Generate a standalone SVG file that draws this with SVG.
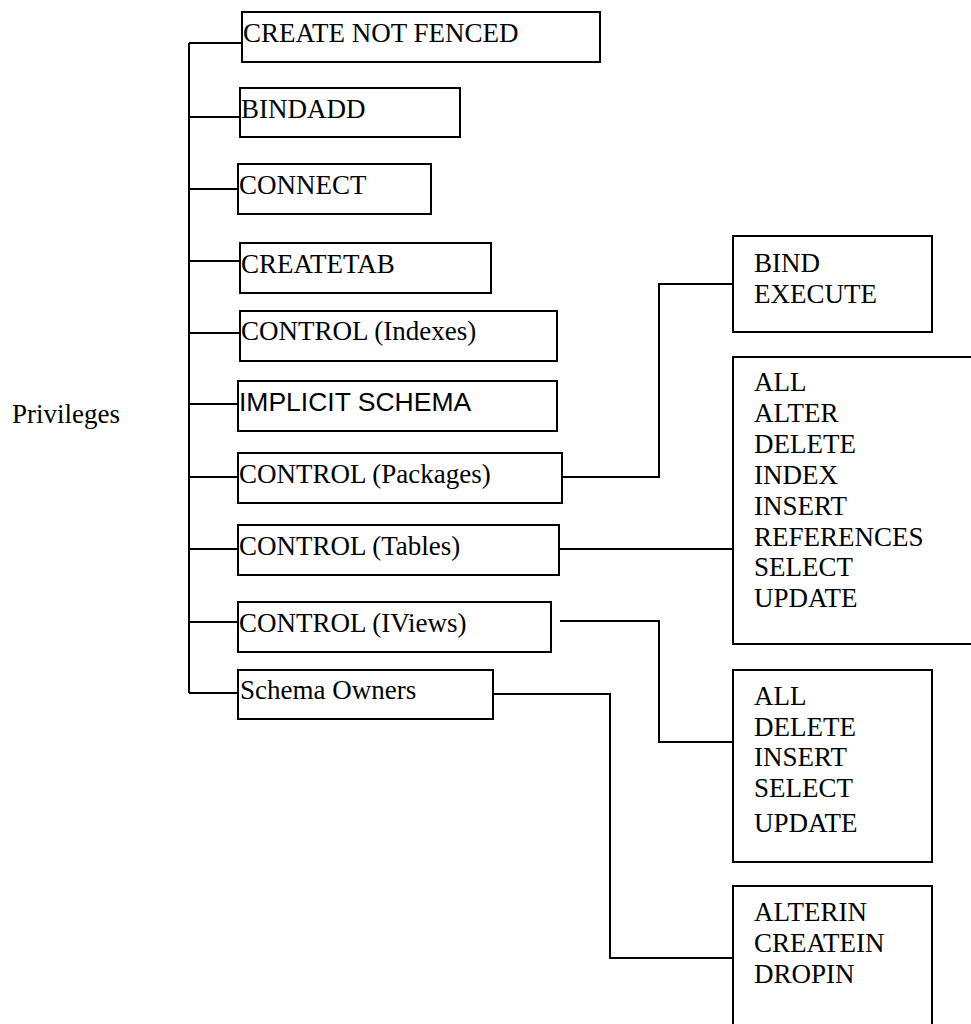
<svg xmlns="http://www.w3.org/2000/svg" width="971" height="1024" viewBox="0 0 971 1024">
<style>
.box{fill:#fff;stroke:#000;stroke-width:2}
.ln{fill:none;stroke:#000;stroke-width:2}
.t{font-family:"Liberation Serif","Times New Roman",serif;font-size:27px;fill:#000}
.a{font-family:"Liberation Sans",Arial,sans-serif;font-size:26.5px;fill:#000}
</style>
<rect width="971" height="1024" fill="#fff"/>
<g id="connectors">
<path class="ln" d="M189 43 V693"/>
<path class="ln" d="M189 43 H242"/>
<path class="ln" d="M189 117 H240"/>
<path class="ln" d="M189 189 H238"/>
<path class="ln" d="M189 261 H240"/>
<path class="ln" d="M189 333 H240"/>
<path class="ln" d="M189 404 H238"/>
<path class="ln" d="M189 477 H238"/>
<path class="ln" d="M189 549 H238"/>
<path class="ln" d="M189 622 H238"/>
<path class="ln" d="M189 693 H238"/>
<path class="ln" d="M559 477 H659 V284 H733"/>
<path class="ln" d="M559 549 H733"/>
<path class="ln" d="M560 621 H659 V742 H733"/>
<path class="ln" d="M486 694 H610 V958 H733"/>
</g>
<g id="privileges"><text class="t" x="12" y="423">Privileges</text></g>
<g id="n-create-not-fenced"><rect class="box" x="242" y="12" width="358" height="50"/><text class="t" x="243" y="42">CREATE NOT FENCED</text></g>
<g id="n-bindadd"><rect class="box" x="240" y="88" width="220" height="49"/><text class="t" x="241" y="118">BINDADD</text></g>
<g id="n-connect"><rect class="box" x="238" y="164" width="193" height="50"/><text class="t" x="239" y="194">CONNECT</text></g>
<g id="n-createtab"><rect class="box" x="240" y="243" width="251" height="50"/><text class="t" x="241" y="273">CREATETAB</text></g>
<g id="n-control-indexes"><rect class="box" x="240" y="311" width="317" height="50"/><text class="t" x="241" y="340">CONTROL (Indexes)</text></g>
<g id="n-implicit-schema"><rect class="box" x="238" y="381" width="319" height="50"/><text class="a" x="239" y="411">IMPLICIT SCHEMA</text></g>
<g id="n-control-packages"><rect class="box" x="238" y="453" width="324" height="50"/><text class="t" x="239" y="483">CONTROL (Packages)</text></g>
<g id="n-control-tables"><rect class="box" x="238" y="525" width="321" height="50"/><text class="t" x="239" y="555">CONTROL (Tables)</text></g>
<g id="n-control-iviews"><rect class="box" x="238" y="602" width="313" height="50"/><text class="t" x="239" y="632">CONTROL (IViews)</text></g>
<g id="n-schema-owners"><rect class="box" x="238" y="670" width="255" height="49"/><text class="t" x="240" y="699">Schema Owners</text></g>
<g id="n-package-privs"><rect class="box" x="733" y="236" width="199" height="96"/>
<text class="t" x="754" y="272">BIND</text><text class="t" x="754" y="303">EXECUTE</text></g>
<g id="n-table-privs"><rect class="box" x="733" y="357" width="250" height="287"/>
<text class="t" x="754" y="391">ALL</text>
<text class="t" x="754" y="422">ALTER</text>
<text class="t" x="754" y="453">DELETE</text>
<text class="t" x="754" y="484">INDEX</text>
<text class="t" x="754" y="515">INSERT</text>
<text class="t" x="754" y="546">REFERENCES</text>
<text class="t" x="754" y="576">SELECT</text>
<text class="t" x="754" y="607">UPDATE</text></g>
<g id="n-view-privs"><rect class="box" x="733" y="670" width="199" height="192"/>
<text class="t" x="754" y="705">ALL</text>
<text class="t" x="754" y="736">DELETE</text>
<text class="t" x="754" y="766">INSERT</text>
<text class="t" x="754" y="797">SELECT</text>
<text class="t" x="754" y="832">UPDATE</text></g>
<g id="n-schema-privs"><rect class="box" x="733" y="886" width="199" height="150"/>
<text class="t" x="754" y="921">ALTERIN</text>
<text class="t" x="754" y="952">CREATEIN</text>
<text class="t" x="754" y="983">DROPIN</text></g>
</svg>
